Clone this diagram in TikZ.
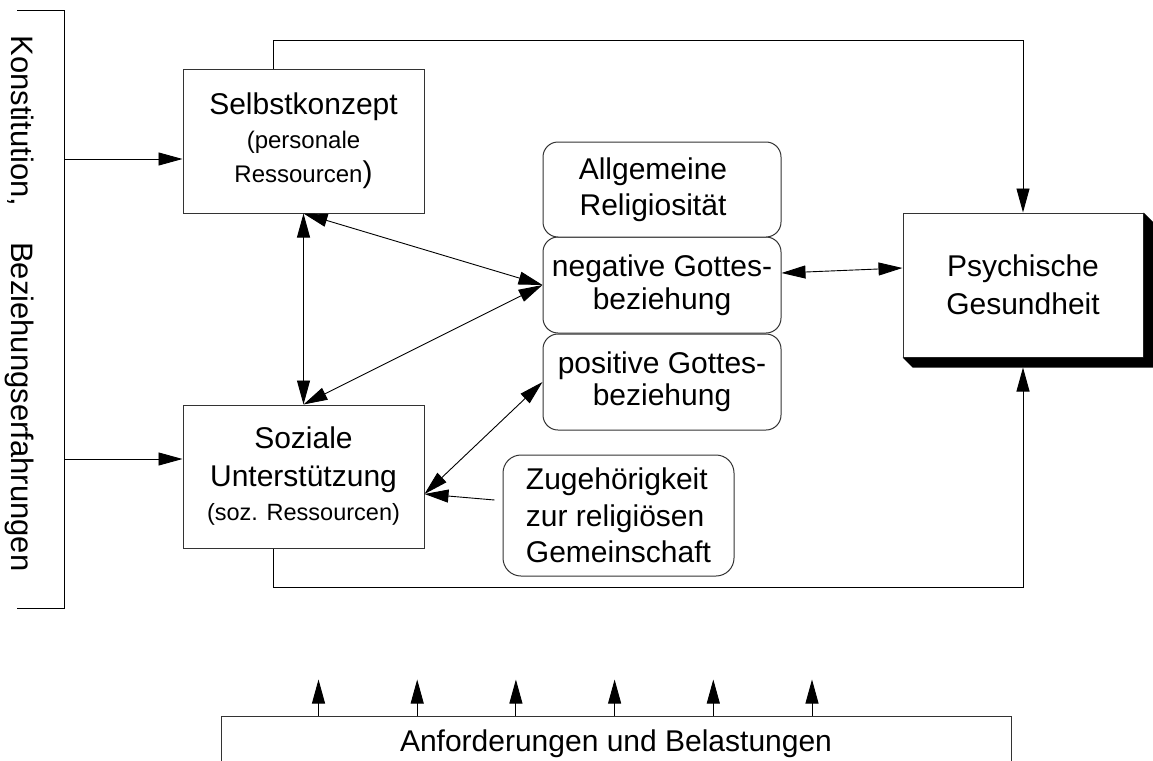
\documentclass[tikz,border=0pt]{standalone}
\usepackage{fontspec}
\setmainfont{Liberation Sans}
\usetikzlibrary{positioning, arrows.meta, calc}

\begin{document}
\begin{tikzpicture}
[
    x=1pt, y=-1pt, on grid, >={Triangle[length=24pt, width=13pt]},
    plain_box/.style={rectangle, draw=black!80, line width=1pt, fill=white, inner sep=0pt, align=center, font=\fontsize{30}{36}\selectfont},
    round_box/.style={plain_box, rounded corners=15pt, minimum width=238pt, minimum height=96pt},
    link/.style={line width=0.9pt, color=black},
]
    \useasboundingbox (0,0) rectangle (1153,760);
    \clip (0,0) rectangle (1153,760);
    \node[plain_box, minimum width=241pt, minimum height=144pt] (selbst) at (303.5,141) {Selbstkonzept\\[-2pt] {\fontsize{24}{29}\selectfont (personale\hspace*{24pt}}\\[-2pt] {\fontsize{24}{29}\selectfont Ressourcen}{)}} ;
    \node[plain_box, minimum width=241pt, minimum height=143pt] (sozial) [below=335.5pt of selbst] {Soziale\\[2pt] Unterstützung\\[-2pt] {\fontsize{23.5}{28}\selectfont (soz. Ressourcen)}} ;
    \node[round_box] (neg) at (662,285) {negative Gottes-\\[-3pt] beziehung} ;
    \node[round_box, minimum height=95pt] (allg) [above=95.5pt of neg] {Allgemeine\hspace*{18pt}\\ Religiosität\hspace*{18pt}} ;
    \node[round_box] (pos) [below=97pt of neg] {positive Gottes-\\[-4pt] beziehung} ;
    \node[plain_box, rounded corners=18pt, align=left, minimum width=231pt, minimum height=121pt, font=\fontsize{30}{36.5}\selectfont] (zug) at (618.5,515.5) {Zugehörigkeit\\ zur religiösen\\ Gemeinschaft} ;
    \node[plain_box, minimum width=240pt, minimum height=144pt] (psych) [right=361pt of neg] {Psychische\\[2pt] Gesundheit} ;
    \node[plain_box, minimum width=790pt, minimum height=56pt] (belast) at (616,744) {Anforderungen und Belastungen} ;
    \node[rotate=-90, inner sep=0pt, font=\fontsize{31}{37}\selectfont] (herkunft) at (20,303.5) {Konstitution,\hspace{36pt}Beziehungserfahrungen} ;
    \fill[black] (psych.south west) -- ++(10,10) -- ($(psych.south east)+(10,10)$) -- ($(psych.north east)+(10,10)$) -- (psych.north east) -- (psych.south east) -- cycle ;
    \coordinate (brtop) at (64,10) ;
    \coordinate (brbot) at (64,608) ;
    \coordinate (inS) at ($(selbst.west)+(0,18)$) ;
    \coordinate (inU) at ($(sozial.west)+(0,-17.5)$) ;
    \coordinate (sozE) at ($(sozial.east)+(0,17.5)$) ;
    \draw[link] ($(brtop)+(-47,0)$) -- (brtop) -- (brbot) -- ++(-47,0) ;
    \draw[->, link] (brtop |- inS) -- (inS) ;
    \draw[->, link] (brtop |- inU) -- (inU) ;
    \draw[->, link] ($(selbst.north west)+(91,0)$) -- ++(0,-28) -| (psych.north) ;
    \draw[->, link] ($(sozial.south west)+(91,0)$) -- ++(0,39) -| ($(psych.south)+(0,10)$) ;
    \draw[<->, link] (selbst.south) -- (sozial.north) ;
    \draw[<->, link] (selbst.south) -- (neg.west) ;
    \draw[<->, link] (sozial.north) -- (neg.west) ;
    \draw[<->, link] (sozE) -- (pos.west) ;
    \draw[->, link] ($(zug.west)+(-8,-15.5)$) -- (sozE) ;
    \draw[<->, link] ($(neg.east)+(0,-12)$) -- ($(psych.west)+(0,-17)$) ;
    \foreach \i in {0,...,5}
        \draw[->, link] ($(belast.north west)+(98+98.7*\i,0)$) -- ++(0,-36) ;
\end{tikzpicture}
\end{document}
